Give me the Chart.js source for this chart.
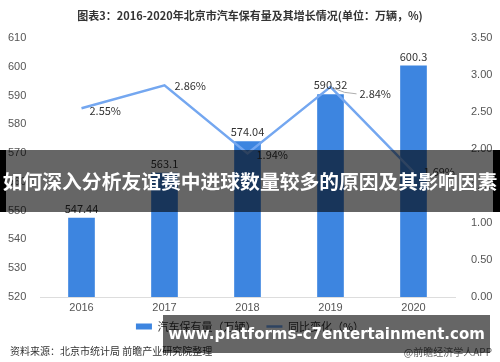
<!DOCTYPE html>
<html>
<head>
<meta charset="utf-8">
<script src="https://cdn.jsdelivr.net/npm/chart.js@4.4.1/dist/chart.umd.min.js"></script>
<style>
    html, body { margin: 0; padding: 0; background: #fff; }
    #wrap { position: relative; width: 500px; height: 362px; overflow: hidden; font-family: "Noto Sans CJK SC", "Noto Sans", sans-serif; }
    #wrap canvas { position: absolute; left: 0; top: 0; }
    .title { position: absolute; left: 0; top: 7px; width: 500px; text-align: center; font-size: 11px; font-weight: bold; color: #333; white-space: nowrap; }
    .note { position: absolute; font-size: 10px; color: #333; white-space: nowrap; }
    .band1 { position: absolute; left: 0; top: 150px; width: 500px; height: 62px; }
    .band1 .edge { position: absolute; top: 0; bottom: 0; background: #000; }
    .band1 .sh { position: absolute; left: 6px; right: 7px; top: 0; bottom: 0; background: rgba(0,0,0,0.6); }
    .band1 .txt { position: absolute; left: 0; top: 18px; width: 500px; text-align: center; color: #fff; font-weight: bold; font-size: 19.8px; line-height: 26px; white-space: nowrap; }
    .band2 { position: absolute; left: 163px; top: 315px; width: 327px; height: 38px; background: rgba(0,0,0,0.6); color: #fff; font-weight: bold; font-size: 15px; line-height: 38px; text-align: center; white-space: nowrap; font-family: "DejaVu Sans", sans-serif; }
</style>
</head>
<body>
<div id="wrap">
    <canvas id="chart" width="500" height="362"></canvas>
    <div class="title">图表3：2016-2020年北京市汽车保有量及其增长情况(单位：万辆，%)</div>
    <div class="note" style="left:10px; top:343px;">资料来源：北京市统计局 前瞻产业研究院整理</div>
    <div class="note" style="right:8px; top:344px; color:#666;">@前瞻经济学人APP</div>
    <div class="band1">
        <div class="edge" style="left:0; width:6px;"></div>
        <div class="sh"></div>
        <div class="edge" style="right:0; width:7px;"></div>
        <div class="txt">如何深入分析友谊赛中进球数量较多的原因及其影响因素</div>
    </div>
    <div class="band2">www.platforms-c7entertainment.com</div>
</div>
<script>
// 数据 (单位: 万辆, %)
const years = ['2016', '2017', '2018', '2019', '2020'];
const carStock = [547.44, 563.1, 574.04, 590.32, 600.3];
const growthPct = [2.55, 2.86, 1.94, 2.84, 1.69];
const leftTicks = [520, 530, 540, 550, 560, 570, 580, 590, 600, 610];
const rightTicks = [0, 0.5, 1, 1.5, 2, 2.5, 3, 3.5];

const BAR_COLOR = '#3d85e0';
const LINE_COLOR = '#74a7f0';

// nhan so lieu tren cot va tren duong
const valueLabels = {
    id: 'valueLabels',
    afterDatasetsDraw(chart) {
        const ctx = chart.ctx;
        ctx.save();
        ctx.font = '11px "Noto Sans CJK SC", sans-serif';
        ctx.fillStyle = '#333';

        const bars = chart.getDatasetMeta(0).data;
        ctx.textAlign = 'center';
        ctx.textBaseline = 'bottom';
        bars.forEach((b, i) => ctx.fillText(String(carStock[i]), b.x, b.y - 4));

        const pts = chart.getDatasetMeta(1).data;
        ctx.textAlign = 'left';
        ctx.textBaseline = 'middle';
        pts.forEach((p, i) => {
            const txt = growthPct[i].toFixed(2) + '%';
            if (i === 3) {
                // duong dan toi nhan 2.84%
                ctx.strokeStyle = '#999';
                ctx.lineWidth = 0.8;
                ctx.beginPath();
                ctx.moveTo(p.x + 2, p.y + 1);
                ctx.quadraticCurveTo(p.x + 14, p.y + 7, p.x + 26, p.y + 7);
                ctx.stroke();
                ctx.fillText(txt, p.x + 29, p.y + 7);
            } else if (i === 0) {
                ctx.fillText(txt, p.x + 8, p.y + 3);
            } else if (i === 2) {
                ctx.fillText(txt, p.x + 9, p.y + 1);
            } else {
                ctx.fillText(txt, p.x + 10, p.y);
            }
        });
        ctx.restore();
    }
};

new Chart(document.getElementById('chart'), {
    data: {
        labels: years,
        datasets: [
            {
                type: 'bar',
                label: '汽车保有量（万辆）',
                data: carStock,
                backgroundColor: BAR_COLOR,
                barThickness: 26,
                pointStyle: 'rect',
                yAxisID: 'y',
                order: 2,
            },
            {
                type: 'line',
                label: '同比变化（%）',
                data: growthPct,
                borderColor: LINE_COLOR,
                backgroundColor: LINE_COLOR,
                borderWidth: 2.5,
                pointRadius: 0,
                pointStyle: 'line',
                tension: 0,
                yAxisID: 'y1',
                order: 1,
            },
        ],
    },
    options: {
        responsive: false,
        animation: false,
        layout: { padding: { left: 8, right: 8, top: 38, bottom: 20 } },
        plugins: {
            legend: {
                position: 'bottom',
                labels: {
                    usePointStyle: true,
                    pointStyleWidth: 16,
                    boxHeight: 6,
                    color: '#333',
                    padding: 10,
                    font: { size: 11, family: '"Noto Sans CJK SC", sans-serif' },
                    sort: (a, b) => a.datasetIndex - b.datasetIndex,
                },
            },
            tooltip: { enabled: false },
        },
        scales: {
            x: {
                afterFit: s => { s.height = 14; },
                grid: { display: false, drawTicks: false },
                border: { color: '#ddd' },
                ticks: { color: '#555', font: { size: 11 }, padding: 4 },
            },
            y: {
                position: 'left',
                min: 520,
                max: 610,
                afterBuildTicks: s => { s.ticks = leftTicks.map(v => ({ value: v })); },
                afterFit: s => { s.width = 32; },
                grid: { display: false },
                border: { display: false },
                ticks: { crossAlign: 'far', color: '#555', font: { size: 11 } },
            },
            y1: {
                position: 'right',
                min: 0,
                max: 3.5,
                afterBuildTicks: s => { s.ticks = rightTicks.map(v => ({ value: v })); },
                afterFit: s => { s.width = 37; },
                grid: { display: false },
                border: { display: false },
                ticks: { color: '#555', font: { size: 11 }, padding: 8, callback: v => v.toFixed(2) + '%' },
            },
        },
    },
    plugins: [valueLabels],
});
</script>
</body>
</html>
